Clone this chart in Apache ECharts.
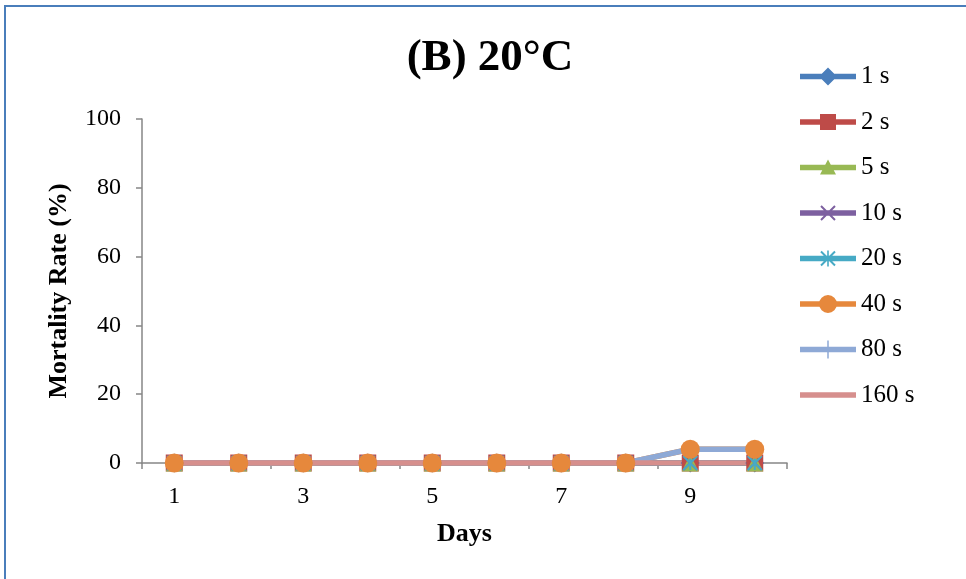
<!DOCTYPE html>
<html><head><meta charset="utf-8">
<script src="https://cdn.jsdelivr.net/npm/echarts@6/dist/echarts.min.js"></script>
<style>
html,body{margin:0;padding:0;background:#fff;}
#frame{position:absolute;left:4px;top:5px;width:980px;height:600px;border-left:2px solid #4A7EBB;border-top:2px solid #4A7EBB;box-sizing:border-box;}
#c{position:absolute;left:0;top:0;width:966px;height:579px;}
</style></head>
<body>
<div id="frame"></div>
<div id="c"></div>
<script>
const days = ['1','2','3','4','5','6','7','8','9','10'];
const seriesNames = ['1 s','2 s','5 s','10 s','20 s','40 s','80 s','160 s'];
const s1 = [0,0,0,0,0,0,0,0,0,0];
const s2 = [0,0,0,0,0,0,0,0,0,0];
const s5 = [0,0,0,0,0,0,0,0,0,0];
const s10 = [0,0,0,0,0,0,0,0,0,0];
const s20 = [0,0,0,0,0,0,0,0,0,0];
const s40 = [0,0,0,0,0,0,0,0,4,4];
const s80 = [0,0,0,0,0,0,0,0,4,4];
const s160 = [0,0,0,0,0,0,0,0,0,0];
const yTicks = [0,20,40,60,80,100];

const allData = [s1,s2,s5,s10,s20,s40,s80,s160];
const colors = ['#4A7EBB','#BE4B48','#98B954','#7D60A0','#46AAC5','#E6883C','#8EA9D6','#D68F8D'];
const symbols = ['diamond','rect','triangle',
  'path://M0,0L10,10M10,0L0,10',
  'path://M0,0L10,10M10,0L0,10M5,0L5,10',
  'circle',
  'path://M5,0L5,10',
  'none'];
const sizes = [19,17,17,14,14,19,19,10];
const font = '"Liberation Serif","Times New Roman",serif';

// legend icons (line + marker), drawn in a 56x24 box
const corners = 'M0,0L0.01,0L0,0.01Z M56,24L55.99,24L56,23.99Z ';
const lineP = 'M0,9.25L56,9.25L56,14.75L0,14.75Z ';
const markP = [
  'M28,3L37,12L28,21L19,12Z',
  'M20,4L36,4L36,20L20,20Z',
  'M28,4L36,19L20,19Z',
  'M21.7,4.3L35.7,18.3L34.3,19.7L20.3,5.7Z M34.3,4.3L35.7,5.7L21.7,19.7L20.3,18.3Z',
  'M21.7,4.3L35.7,18.3L34.3,19.7L20.3,5.7Z M34.3,4.3L35.7,5.7L21.7,19.7L20.3,18.3Z M27.2,4L28.8,4L28.8,20L27.2,20Z',
  'M19,12A9,9 0 1,1 37,12A9,9 0 1,1 19,12Z',
  'M27.25,3L28.75,3L28.75,21L27.25,21Z',
  ''
];

const series = seriesNames.map((n,i)=>{
  const isPath = symbols[i].startsWith('path://');
  return {
    name:n, type:'line', data:allData[i],
    symbol:symbols[i], symbolSize:sizes[i], showSymbol: symbols[i]!=='none',
    lineStyle:{color:colors[i], width:5.5},
    itemStyle: isPath ? {color:'rgba(0,0,0,0)', borderColor:colors[i], borderWidth:2} : {color:colors[i], borderWidth:0},
    emphasis:{disabled:true},
    animation:false
  };
});

const legendData = seriesNames.map((n,i)=>({
  name:n,
  icon:'path://' + corners + lineP + markP[i],
  itemStyle:{color:colors[i], borderWidth:0}
}));

const chart = echarts.init(document.getElementById('c'));
chart.setOption({
  animation:false,
  title:{text:'(B) 20°C', left:485, top:31, textAlign:'center',
    textStyle:{fontFamily:font, fontWeight:'bold', fontSize:45, color:'#000'}},
  legend:{orient:'vertical', left:795, top:59, itemWidth:56, itemHeight:24, itemGap:20.5,
    symbolKeepAspect:false, selectedMode:false,
    data:legendData,
    textStyle:{fontFamily:font, fontSize:25, color:'#000'}},
  grid:{left:142, right:179, top:119, bottom:116, containLabel:false},
  xAxis:{type:'category', data:days, boundaryGap:true,
    name:'Days', nameLocation:'middle', nameGap:58,
    nameTextStyle:{fontFamily:font, fontWeight:'bold', fontSize:26, color:'#000'},
    axisLine:{lineStyle:{color:'#868686', width:1.5}},
    axisTick:{show:true, interval:1, length:6, lineStyle:{color:'#868686', width:1.5}},
    axisLabel:{interval:1, fontFamily:font, fontSize:24, color:'#000', margin:22},
    splitLine:{show:false}},
  yAxis:{type:'value', min:0, max:100, interval:20,
    name:'Mortality Rate (%)', nameLocation:'middle', nameGap:70,
    nameTextStyle:{fontFamily:font, fontWeight:'bold', fontSize:26, color:'#000'},
    axisLine:{show:true, lineStyle:{color:'#868686', width:1.5}},
    axisTick:{show:true, length:6, lineStyle:{color:'#868686', width:1.5}},
    axisLabel:{fontFamily:font, fontSize:24, color:'#000', margin:21,
      formatter:v=>yTicks.includes(v)?String(v):''},
    splitLine:{show:false}},
  series:series
});
</script>
</body></html>
